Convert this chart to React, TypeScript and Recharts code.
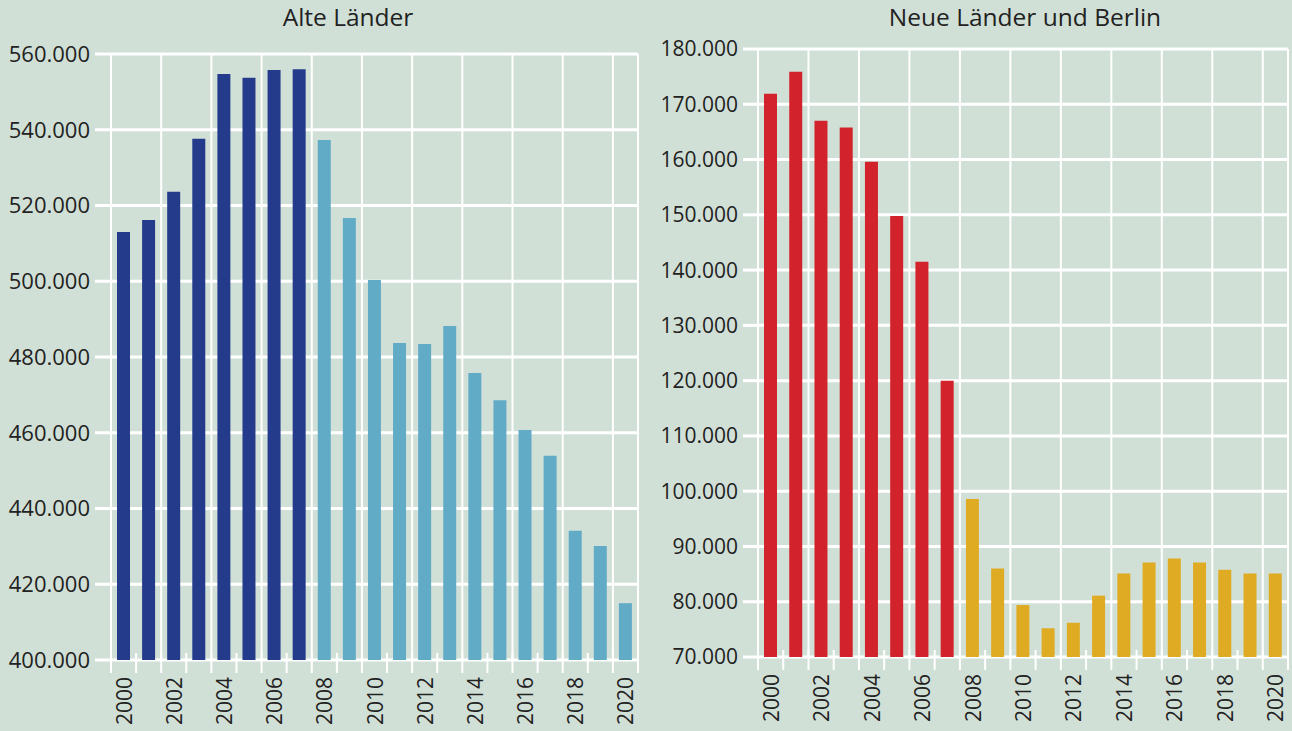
import { BarChart, Bar, Cell, XAxis, YAxis, CartesianGrid, ReferenceLine } from "recharts";

const BG = "#d1e0d7";
const WHITE = "#ffffff";
const TEXT = "#222222";
const FONT = "'Open Sans', 'Noto Sans', sans-serif";

const YEARS = [
  2000, 2001, 2002, 2003, 2004, 2005, 2006, 2007, 2008, 2009, 2010,
  2011, 2012, 2013, 2014, 2015, 2016, 2017, 2018, 2019, 2020,
];
// years from which the lighter colour is used
const SPLIT_YEAR = 2008;

const ALT_VALUES = [
  513000, 516200, 523600, 537600, 554700, 553700, 555800, 556000, 537300, 516700, 500300,
  483700, 483400, 488200, 475800, 468600, 460700, 453900, 434100, 430100, 415000,
];
const NEUE_VALUES = [
  171900, 175900, 167000, 165800, 159600, 149800, 141500, 120000, 98600, 86000, 79400,
  75200, 76200, 81100, 85100, 87100, 87800, 87100, 85800, 85100, 85100,
];

const ALT_TICKS = [400000, 420000, 440000, 460000, 480000, 500000, 520000, 540000, 560000];
const NEUE_TICKS = [70000, 80000, 90000, 100000, 110000, 120000, 130000, 140000, 150000, 160000, 170000, 180000];

const altData = YEARS.map((year, i) => ({ year, value: ALT_VALUES[i] }));
const neueData = YEARS.map((year, i) => ({ year, value: NEUE_VALUES[i] }));

const fmt = (v: number) => String(v).replace(/\B(?=(\d{3})+(?!\d))/g, ".");

function YearTick(props: any) {
  const { x, y, payload, band } = props;
  const half = payload && typeof payload.offset === "number" && payload.offset > 0 ? payload.offset : band / 2;
  const isLast = payload.index === YEARS.length - 1;
  const even = payload.value % 2 === 0;
  return (
    <g>
      <line x1={x - half} x2={x - half} y1={y - 7} y2={y + 13} stroke={WHITE} strokeWidth={2} />
      {isLast && <line x1={x + half} x2={x + half} y1={y - 7} y2={y + 13} stroke={WHITE} strokeWidth={2} />}
      {even && (
        <text
          x={x}
          y={y + 17}
          transform={`rotate(-90, ${x}, ${y + 17})`}
          textAnchor="end"
          dominantBaseline="central"
          fontSize={21}
          fill={TEXT}
          fontFamily={FONT}
        >
          {payload.value}
        </text>
      )}
    </g>
  );
}

type PanelProps = {
  data: { year: number; value: number }[];
  ticks: number[];
  dark: string;
  light: string;
  left: number;
  top: number;
  right: number;
  yWidth: number;
  xHeight: number;
  tickSize: number;
  fontSize: number;
};

function Panel({ data, ticks, dark, light, left, top, right, yWidth, xHeight, tickSize, fontSize }: PanelProps) {
  const width = 646;
  const band = (width - right - yWidth) / data.length;
  return (
    <div style={{ position: "absolute", left, top: 0 }}>
      <BarChart width={width} height={731} data={data} margin={{ top, right, bottom: 0, left: 0 }}>
        <CartesianGrid vertical={false} stroke={WHITE} strokeWidth={3} />
        {YEARS.filter((_, i) => i % 2 === 0).map((y) => (
          <ReferenceLine key={y} x={y} position="start" stroke={WHITE} strokeWidth={2} />
        ))}
        <ReferenceLine x={YEARS[YEARS.length - 1]} position="end" stroke={WHITE} strokeWidth={2} />
        <XAxis
          dataKey="year"
          interval={0}
          height={xHeight}
          axisLine={false}
          tickLine={false}
          tickSize={0}
          tickMargin={0}
          tick={(p: any) => <YearTick {...p} band={band} />}
        />
        <YAxis
          width={yWidth}
          domain={[ticks[0], ticks[ticks.length - 1]]}
          ticks={ticks}
          interval={0}
          axisLine={false}
          tickLine={{ stroke: WHITE, strokeWidth: 3 }}
          tickSize={tickSize}
          tickMargin={5}
          tickFormatter={fmt}
          tick={{ fontSize, fill: TEXT, fontFamily: FONT }}
        />
        <Bar dataKey="value" barSize={13} isAnimationActive={false}>
          {data.map((d) => (
            <Cell key={d.year} fill={d.year < SPLIT_YEAR ? dark : light} />
          ))}
        </Bar>
      </BarChart>
    </div>
  );
}

export default function App() {
  return (
    <div style={{ position: "relative", width: 1292, height: 731, background: BG, overflow: "hidden", fontFamily: FONT }}>
      <style>{`body{margin:0;background:${BG};}`}</style>
      <div style={{ position: "absolute", left: 198, width: 300, top: 0, textAlign: "center", fontSize: 24.5, color: TEXT }}>
        Alte Länder
      </div>
      <div style={{ position: "absolute", left: 825, width: 400, top: 0, textAlign: "center", fontSize: 24.5, color: TEXT }}>
        Neue Länder und Berlin
      </div>
      <Panel
        data={altData}
        ticks={ALT_TICKS}
        dark="#243b8b"
        light="#62abc7"
        left={0}
        top={54}
        right={8}
        yWidth={111}
        xHeight={71}
        tickSize={16}
        fontSize={22}
      />
      <Panel
        data={neueData}
        ticks={NEUE_TICKS}
        dark="#d2222b"
        light="#dfab22"
        left={646}
        top={49}
        right={4}
        yWidth={112}
        xHeight={74}
        tickSize={15}
        fontSize={21}
      />
    </div>
  );
}
